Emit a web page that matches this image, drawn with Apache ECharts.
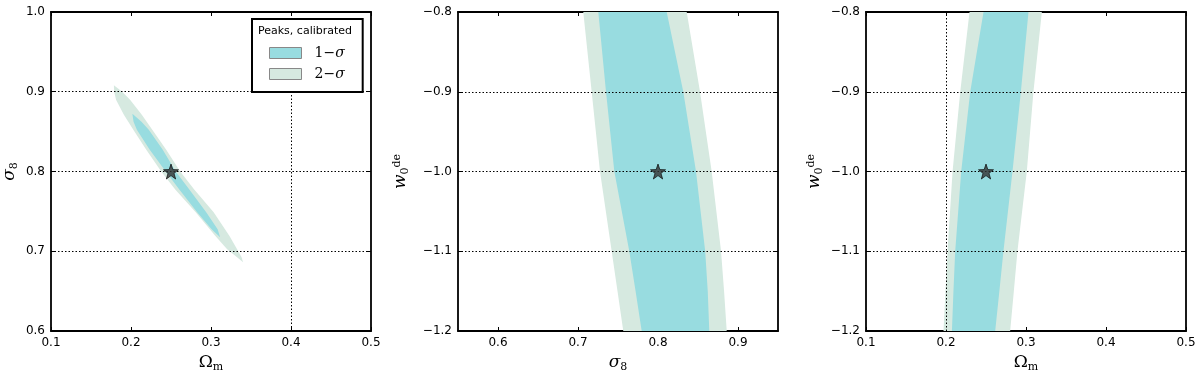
<!DOCTYPE html>
<html>
<head>
<meta charset="utf-8">
<script src="https://cdn.jsdelivr.net/npm/echarts@6/dist/echarts.min.js"></script>
<style>
  html, body { margin: 0; padding: 0; background: #fff; }
  #chart { width: 1200px; height: 378px; }
</style>
</head>
<body>
<div id="chart"></div>
<script>
// Contour outlines, in data units
// Panel 1: Omega_m vs sigma_8 (closed polygons)
const p1Outer = [
  [0.1786, 0.9081], [0.1889, 0.9000], [0.1988, 0.8900], [0.2135, 0.8713],
  [0.2266, 0.8525], [0.2438, 0.8275], [0.2615, 0.8000], [0.2790, 0.7775],
  [0.3033, 0.7488], [0.3233, 0.7188], [0.3326, 0.7025], [0.3382, 0.6925],
  [0.3401, 0.6863],
  [0.3326, 0.6925], [0.3202, 0.7025], [0.3058, 0.7188], [0.2809, 0.7488],
  [0.2553, 0.7775], [0.2378, 0.8000], [0.2189, 0.8275], [0.2029, 0.8525],
  [0.1911, 0.8713], [0.1813, 0.8900], [0.1790, 0.9000]
];
const p1Inner = [
  [0.2017, 0.8725], [0.2131, 0.8625], [0.2222, 0.8525], [0.2395, 0.8275],
  [0.2559, 0.8000], [0.2729, 0.7775], [0.2940, 0.7488], [0.3083, 0.7275],
  [0.3114, 0.7175],
  [0.3008, 0.7275], [0.2827, 0.7488], [0.2604, 0.7775], [0.2434, 0.8000],
  [0.2232, 0.8275], [0.2073, 0.8525], [0.2032, 0.8625]
];

// Panels 2 and 3: band edges at these w0 levels
const wLevels = [-0.8, -0.9, -1.0, -1.1, -1.15, -1.2];
const p2OuterLeft  = [0.7066, 0.7171, 0.7275, 0.7421, 0.7494, 0.7566];
const p2InnerLeft  = [0.7254, 0.7350, 0.7454, 0.7641, 0.7720, 0.7796];
const p2InnerRight = [0.8109, 0.8316, 0.8475, 0.8590, 0.8622, 0.8641];
const p2OuterRight = [0.8359, 0.8525, 0.8671, 0.8788, 0.8826, 0.8859];

const p3OuterLeft  = [0.2294, 0.2178, 0.2082, 0.2019, 0.1993, 0.1969];
const p3InnerLeft  = [0.2469, 0.2303, 0.2190, 0.2115, 0.2093, 0.2074];
const p3InnerRight = [0.3031, 0.2936, 0.2831, 0.2718, 0.2667, 0.2615];
const p3OuterRight = [0.3198, 0.3093, 0.3010, 0.2893, 0.2848, 0.2802];

// Fiducial point per panel
const fiducial = [[0.25, 0.8], [0.8, -1.0], [0.25, -1.0]];

// Tick values
const omTicks = [0.1, 0.2, 0.3, 0.4, 0.5];
const s8Ticks = [0.6, 0.7, 0.8, 0.9, 1.0];
const s8xTicks = [0.6, 0.7, 0.8, 0.9];
const wTicks = [-1.2, -1.1, -1.0, -0.9, -0.8];

const COL1 = '#98dce0';
const COL2 = '#d6e9e0';

function band(left, right) {
  const pts = [];
  for (let i = 0; i < wLevels.length; i++) pts.push([left[i], wLevels[i]]);
  for (let i = wLevels.length - 1; i >= 0; i--) pts.push([right[i], wLevels[i]]);
  return pts;
}

function starPath() {
  let d = '';
  for (let i = 0; i < 10; i++) {
    const r = i % 2 === 0 ? 50 : 20;
    const a = -Math.PI / 2 + i * Math.PI / 5;
    d += (i === 0 ? 'M' : 'L') + (50 + r * Math.cos(a)).toFixed(2) + ' ' + (50 + r * Math.sin(a)).toFixed(2);
  }
  return 'path://' + d + 'Z';
}

function polySeries(name, pts, color, gi) {
  return {
    name: name,
    type: 'custom',
    xAxisIndex: gi,
    yAxisIndex: gi,
    clip: true,
    silent: true,
    data: pts,
    itemStyle: { color: color },
    renderItem: function (params, api) {
      if (params.dataIndex !== 0) return;
      return {
        type: 'polygon',
        shape: { points: pts.map(p => api.coord(p)) },
        style: { fill: color, stroke: null }
      };
    }
  };
}

const grids = [
  { left: 50, top: 12, width: 321, height: 320 },
  { left: 458, top: 12, width: 320, height: 320 },
  { left: 866, top: 12, width: 320, height: 320 }
];

const fmt = v => (+v).toFixed(1).replace('-', '\u2212');
const labelStyle = { color: '#000', fontSize: 12, fontFamily: 'DejaVu Sans', formatter: fmt };
const lineStyle = { lineStyle: { color: '#000', width: 1.8 } };
const tickStyle = { inside: true, length: 4, lineStyle: { color: '#000', width: 1 } };

const nameRich = {
  a: { fontFamily: 'DejaVu Serif', fontSize: 17, color: '#000', verticalAlign: 'top' },
  i: { fontFamily: 'DejaVu Serif', fontStyle: 'italic', fontSize: 17, color: '#000', verticalAlign: 'top' },
  s: { fontFamily: 'DejaVu Serif', fontSize: 11, color: '#000', verticalAlign: 'top', padding: [8, 0, 0, 0] },
  p: { fontFamily: 'DejaVu Serif', fontSize: 11, color: '#000', verticalAlign: 'top', padding: [0, 0, 0, 0] }
};

const xRanges = [[0.1, 0.5, omTicks], [0.55, 0.95, s8xTicks], [0.1, 0.5, omTicks]];
const yRanges = [[0.6, 1.0, s8Ticks], [-1.2, -0.8, wTicks], [-1.2, -0.8, wTicks]];
const xNames = ['{a|\u03A9}{s|m}', '{i|\u03C3}{s|8}', '{a|\u03A9}{s|m}'];
const yNames = ['{i|\u03C3}{s|8}', '{i|w}{s|0}{p|de}', '{i|w}{s|0}{p|de}'];
const yGaps = [31, 47, 41];

const xAxes = [], yAxes = [];
for (let g = 0; g < 3; g++) {
  const [x0, x1, xt] = xRanges[g];
  const [y0, y1, yt] = yRanges[g];
  xAxes.push({
    type: 'value', gridIndex: g, min: x0, max: x1, position: 'bottom',
    axisLine: lineStyle,
    axisTick: Object.assign({ customValues: xt }, tickStyle),
    axisLabel: Object.assign({ customValues: xt, margin: 6 }, labelStyle),
    splitLine: { show: false },
    name: xNames[g], nameLocation: 'middle', nameGap: 23,
    nameTextStyle: { rich: nameRich }
  });
  yAxes.push({
    type: 'value', gridIndex: g, min: y0, max: y1, position: 'left',
    axisLine: lineStyle,
    axisTick: Object.assign({ customValues: yt }, tickStyle),
    axisLabel: Object.assign({ customValues: yt, margin: 6 }, labelStyle),
    splitLine: { show: false },
    name: yNames[g], nameLocation: 'middle', nameGap: yGaps[g],
    nameTextStyle: { rich: nameRich }
  });
}
// mirrored axes for the top and right frame with inward ticks
for (let g = 0; g < 3; g++) {
  const [x0, x1, xt] = xRanges[g];
  const [y0, y1, yt] = yRanges[g];
  xAxes.push({
    type: 'value', gridIndex: g, min: x0, max: x1, position: 'top',
    axisLine: lineStyle,
    axisTick: Object.assign({ customValues: xt }, tickStyle),
    axisLabel: { show: false }, splitLine: { show: false }
  });
  yAxes.push({
    type: 'value', gridIndex: g, min: y0, max: y1, position: 'right',
    axisLine: lineStyle,
    axisTick: Object.assign({ customValues: yt }, tickStyle),
    axisLabel: { show: false }, splitLine: { show: false }
  });
}

const gridLines = [
  [{ yAxis: 0.9 }, { yAxis: 0.8 }, { yAxis: 0.7 }, { xAxis: 0.4 }],
  [{ yAxis: -0.9 }, { yAxis: -1.0 }, { yAxis: -1.1 }],
  [{ yAxis: -0.9 }, { yAxis: -1.0 }, { yAxis: -1.1 }, { xAxis: 0.2 }]
];

const series = [
  polySeries('2\u2212\u03C3', p1Outer, COL2, 0),
  polySeries('1\u2212\u03C3', p1Inner, COL1, 0),
  polySeries('2\u2212\u03C3', band(p2OuterLeft, p2OuterRight), COL2, 1),
  polySeries('1\u2212\u03C3', band(p2InnerLeft, p2InnerRight), COL1, 1),
  polySeries('2\u2212\u03C3', band(p3OuterLeft, p3OuterRight), COL2, 2),
  polySeries('1\u2212\u03C3', band(p3InnerLeft, p3InnerRight), COL1, 2)
];
for (let g = 0; g < 3; g++) {
  series.push({
    type: 'scatter', xAxisIndex: g, yAxisIndex: g, silent: true, z: 5,
    data: [fiducial[g]],
    symbol: starPath(), symbolSize: 15,
    itemStyle: { color: '#333', borderColor: '#000', borderWidth: 0.8 },
    markLine: {
      silent: true, symbol: 'none', label: { show: false }, z: 4,
      lineStyle: { color: '#000', width: 1, type: [1.5, 2] },
      data: gridLines[g]
    }
  });
}

const chart = echarts.init(document.getElementById('chart'));
chart.setOption({
  animation: false,
  backgroundColor: '#fff',
  grid: grids,
  xAxis: xAxes,
  yAxis: yAxes,
  title: {
    text: 'Peaks, calibrated', left: 258, top: 26, padding: 0, z: 10,
    textStyle: { fontFamily: 'DejaVu Sans', fontSize: 11, fontWeight: 'normal', color: '#000' }
  },
  legend: {
    data: ['1\u2212\u03C3', '2\u2212\u03C3'],
    orient: 'vertical', left: 252, top: 19, z: 8,
    padding: [27, 18, 11, 17],
    itemWidth: 32, itemHeight: 11, itemGap: 7,
    icon: 'rect',
    backgroundColor: '#fff', borderColor: '#000', borderWidth: 2, borderRadius: 0,
    itemStyle: { borderColor: '#888', borderWidth: 1 },
    formatter: name => '{a|' + name.charAt(0) + '\u2212}{i|\u03C3}',
    textStyle: {
      padding: [0, 0, 0, 8],
      rich: {
        a: { fontFamily: 'DejaVu Serif', fontSize: 14, color: '#000', lineHeight: 17 },
        i: { fontFamily: 'DejaVu Serif', fontStyle: 'italic', fontSize: 14, color: '#000', lineHeight: 17 }
      }
    }
  },
  series: series
});
</script>
</body>
</html>
